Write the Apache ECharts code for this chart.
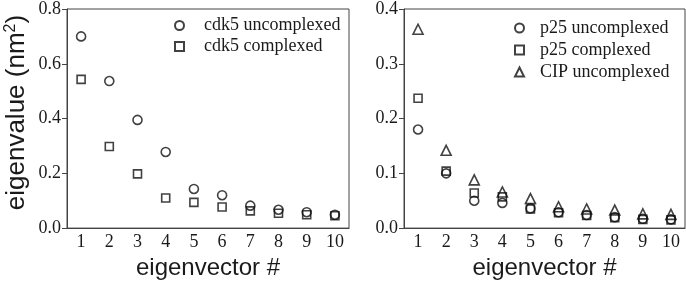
<!DOCTYPE html>
<html><head><meta charset="utf-8">
<script src="https://cdn.jsdelivr.net/npm/echarts@6/dist/echarts.min.js"></script>
<style>html,body{margin:0;padding:0;background:#fff}#c{width:686px;height:285px}</style>
</head><body><div id="c"></div>
<script>
const categories = ['1','2','3','4','5','6','7','8','9','10'];
const cdk5Uncomplexed = [0.700, 0.537, 0.395, 0.278, 0.143, 0.120, 0.082, 0.067, 0.058, 0.049];
const cdk5Complexed   = [0.543, 0.298, 0.198, 0.110, 0.094, 0.077, 0.063, 0.054, 0.049, 0.045];
const p25Uncomplexed  = [0.180, 0.100, 0.050, 0.046, 0.036, 0.029, 0.024, 0.020, 0.017, 0.016];
const p25Complexed    = [0.237, 0.104, 0.064, 0.057, 0.035, 0.028, 0.023, 0.019, 0.016, 0.015];
const cipUncomplexed  = [0.363, 0.142, 0.088, 0.066, 0.054, 0.039, 0.035, 0.033, 0.026, 0.025];
const leftTicks = [0.0, 0.2, 0.4, 0.6, 0.8];
const rightTicks = [0.0, 0.1, 0.2, 0.3, 0.4];

const serif = 'Liberation Serif';
const sans = 'Liberation Sans';
const axisCol = '#444';
const open = {color: 'rgba(255,255,255,0)', borderColor: '#111', borderWidth: 1.6};

function xAx(gi) {
  return {
    type: 'category', gridIndex: gi, data: categories, boundaryGap: true,
    axisLine: {lineStyle: {color: axisCol, width: 1}},
    axisTick: {alignWithLabel: true, inside: false, length: 5, lineStyle: {color: axisCol}},
    axisLabel: {fontFamily: serif, fontSize: 18, color: '#1a1a1a', margin: 5},
    name: 'eigenvector #', nameLocation: 'middle', nameGap: 24,
    nameTextStyle: {fontFamily: sans, fontSize: 24, color: '#1a1a1a'}
  };
}
function yAx(gi, ticks, withName) {
  const o = {
    type: 'value', gridIndex: gi, min: ticks[0], max: ticks[ticks.length-1],
    interval: ticks[1]-ticks[0],
    splitLine: {show: false},
    axisLine: {show: true, lineStyle: {color: axisCol, width: 1}},
    axisTick: {show: true, inside: false, length: 5, lineStyle: {color: axisCol}},
    axisLabel: {fontFamily: serif, fontSize: 18, color: '#1a1a1a', margin: 6,
      formatter: v => v.toFixed(1)}
  };
  if (withName) {
    o.name = 'eigenvalue (nm{sup|2})';
    o.nameLocation = 'middle';
    o.nameRotate = 90;
    o.nameGap = 36;
    o.nameTextStyle = {fontFamily: sans, fontSize: 26, color: '#1a1a1a', padding: [0,0,0,12],
      rich: {sup: {fontFamily: sans, fontSize: 16, color: '#1a1a1a', verticalAlign: 'top', padding: [0,0,12,0]}}};
  }
  return o;
}
function sc(name, data, xi, sym, size) {
  return {name, type: 'scatter', xAxisIndex: xi, yAxisIndex: xi, data,
    symbol: sym, symbolSize: size, itemStyle: open, z: 3};
}

const chart = echarts.init(document.getElementById('c'), null, {renderer: 'canvas'});
chart.setOption({
  animation: false,
  grid: [
    {left: 67, top: 7, width: 282, height: 227, show: true, borderColor: axisCol, borderWidth: 1, backgroundColor: 'transparent'},
    {left: 404, top: 8, width: 281, height: 227, show: true, borderColor: axisCol, borderWidth: 1, backgroundColor: 'transparent'}
  ],
  xAxis: [xAx(0), xAx(1)],
  yAxis: [yAx(0, leftTicks, true), yAx(1, rightTicks, false)],
  legend: [
    {data: ['cdk5 uncomplexed', 'cdk5 complexed'], orient: 'vertical', left: 169, top: 10,
     itemWidth: 9, itemHeight: 9, itemGap: 0,
     textStyle: {fontFamily: serif, fontSize: 18, color: '#1a1a1a', lineHeight: 21, padding: [0,0,0,15]}},
    {data: ['p25 uncomplexed', 'p25 complexed', 'CIP uncomplexed'], orient: 'vertical', left: 509, top: 12,
     itemWidth: 9, itemHeight: 9, itemGap: 0,
     textStyle: {fontFamily: serif, fontSize: 18, color: '#1a1a1a', lineHeight: 22, padding: [0,0,0,11]}}
  ],
  series: [
    sc('cdk5 uncomplexed', cdk5Uncomplexed, 0, 'circle', 9),
    sc('cdk5 complexed', cdk5Complexed, 0, 'rect', 8),
    sc('p25 uncomplexed', p25Uncomplexed, 1, 'circle', 9),
    sc('p25 complexed', p25Complexed, 1, 'rect', 8),
    sc('CIP uncomplexed', cipUncomplexed, 1, 'triangle', 10)
  ]
});
</script></body></html>
